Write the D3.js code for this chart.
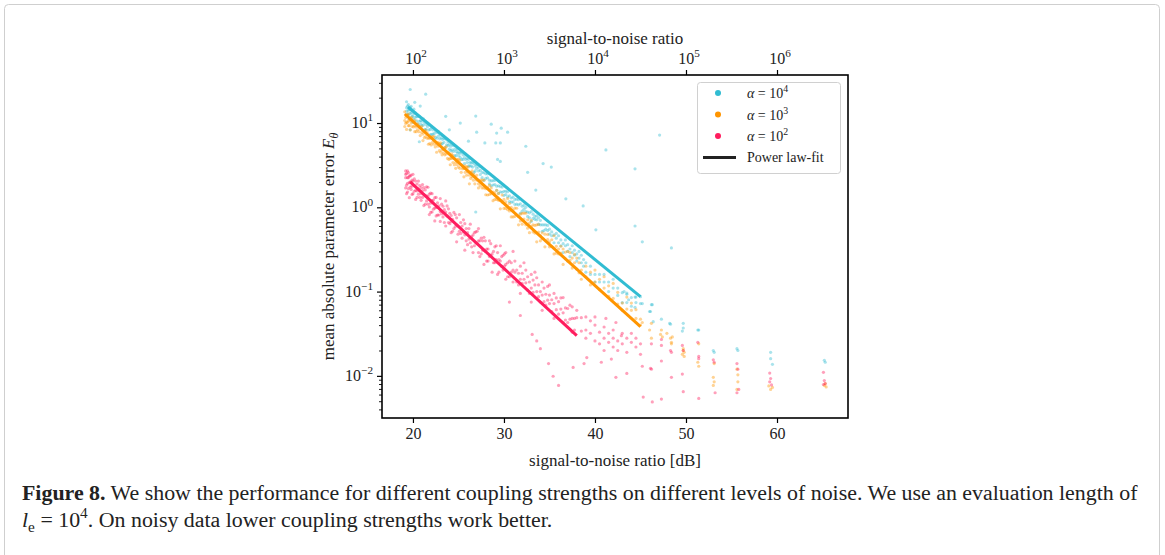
<!DOCTYPE html>
<html>
<head>
<meta charset="utf-8">
<script src="https://cdn.jsdelivr.net/npm/d3@7"></script>
<style>
  body { margin: 0; background: #fff; }
  text { font-family: "Liberation Serif", "DejaVu Serif", serif; fill: #222; }
</style>
</head>
<body>
<svg id="fig" width="1165" height="555"></svg>
<script>
// ---- data: [SNR in dB, mean absolute parameter error] ----
var dbTicks = [20, 30, 40, 50, 60];
var snrExpTicks = [2, 3, 4, 5, 6];
var yExpTicks = [1, 0, -1, -2];
var seriesExp = [4, 3, 2];
var seriesColors = ["#31bcd2", "#ff9500", "#ff1d5e"];

var cyanPts = [
  [19.3,17.9],[19.3,15.2],[19.3,13.9],[19.5,16.5],[19.5,14.1],[19.5,12.3],[19.7,15.3],[19.7,13.0],[19.9,14.1],[19.9,12.0],
  [20.1,13.0],[20.1,11.1],[20.1,14.6],[20.4,11.9],[20.4,10.6],[20.7,12.0],[20.7,10.5],[20.7,9.1],[21.0,10.5],[21.0,9.3],
  [21.3,10.2],[21.3,8.4],[21.6,9.1],[21.6,10.0],[21.9,8.4],[21.9,7.3],[22.2,8.3],[22.2,7.4],[22.5,8.0],[22.5,6.8],
  [22.8,7.0],[22.8,7.9],[23.1,6.7],[23.1,5.6],[23.4,6.6],[23.4,5.9],[23.7,5.5],[23.7,6.4],[24.0,5.6],[24.0,4.9],
  [24.3,5.6],[24.3,4.8],[24.6,4.9],[24.6,4.1],[24.9,4.9],[24.9,4.4],[25.2,4.4],[25.2,3.9],[25.5,4.2],[25.5,3.7],
  [25.8,3.7],[25.8,4.2],[26.1,3.7],[26.1,3.1],[26.4,3.4],[26.4,3.1],[26.7,3.3],[26.7,2.6],[27.0,2.9],[27.0,3.2],
  [27.4,2.75],[27.4,2.45],[27.8,2.57],[27.8,2.09],[28.2,2.23],[28.2,2.5],[28.6,2.06],[28.6,1.8],[29.0,1.86],[29.0,2.09],
  [29.4,1.8],[29.4,1.46],[29.8,1.74],[29.8,1.51],[30.2,1.42],[30.2,1.55],[30.6,1.37],[30.6,1.17],[31.0,1.32],[31.0,1.16],
  [31.4,1.09],[31.4,1.25],[31.8,1.1],[31.8,0.85],[32.2,0.95],[32.2,1.06],[32.6,0.78],[32.6,0.88],[33.0,0.89],[33.0,0.68],
  [33.4,0.72],[33.4,0.78],[33.8,0.63],[33.8,0.75],[34.2,0.62],[34.2,0.52],[34.6,0.55],[34.6,0.62],[35.0,0.48],[35.0,0.55],
  [35.5,0.47],[35.5,0.38],[36.0,0.46],[36.0,0.38],[36.5,0.37],[36.5,0.29],[37.0,0.36],[37.0,0.30],[37.5,0.29],[37.5,0.35],
  [38.0,0.28],[38.0,0.23],[38.5,0.22],[38.5,0.27],[39.0,0.22],[39.0,0.17],[39.5,0.2],[39.5,0.16],[40.0,0.16],[40.0,0.13],
  [40.5,0.16],[40.5,0.13],[41.0,0.13],[41.0,0.16],[41.5,0.13],[41.5,0.10],[42.0,0.11],[42.0,0.14],[42.5,0.09],[42.5,0.11],
  [43.0,0.097],[43.0,0.074],[43.5,0.074],[43.5,0.093],[44.0,0.085],[44.0,0.067],[44.5,0.074],[44.5,0.086],[45.0,0.072],[45.0,0.087],
  [19.4,12.9],[19.4,15.9],[19.6,11.4],[19.6,14.5],[19.8,13.2],[19.8,15.8],[20.0,12.1],[20.0,10.2],[20.25,11.7],[20.25,13.2],
  [20.55,9.8],[20.55,12.0],[20.85,10.7],[20.85,9.7],[21.15,9.5],[21.15,11.2],[21.45,8.4],[21.45,9.6],[21.75,8.3],[21.75,9.7],
  [22.05,8.9],[22.05,7.3],[22.35,7.5],[22.35,6.4],[22.65,7.7],[22.65,6.6],[22.95,6.5],[22.95,7.4],[23.25,6.4],[23.25,5.7],
  [23.55,6.5],[23.55,5.1],[23.85,5.4],[23.85,6.0],[24.15,5.3],[24.15,4.7],[24.45,4.6],[24.45,5.4],[24.75,4.6],[24.75,4.1],
  [25.05,4.5],[25.05,4.1],[25.35,3.7],[25.35,4.5],[25.65,3.9],[25.65,3.3],[25.95,3.4],[25.95,3.8],[26.25,3.4],[26.25,3.1],
  [26.55,3.4],[26.55,3.0],[26.85,2.7],[26.85,3.1],[27.2,2.7],[27.2,3.0],[27.6,2.6],[27.6,2.25],[28.0,2.2],[28.0,2.5],
  [28.4,2.1],[28.4,1.9],[28.8,2.07],[28.8,1.84],[29.2,1.78],[29.2,1.59],[29.6,1.76],[29.6,1.53],[30.0,1.55],[30.0,1.38],
  [30.4,1.53],[30.4,1.33],[30.8,1.29],[30.8,1.15],[31.2,1.24],[31.2,1.08],[31.6,1.07],[31.6,1.23],[32.0,1.03],[32.0,0.9],
  [32.4,1.0],[32.4,0.89],[32.8,0.86],[32.8,0.75],[33.2,0.83],[33.2,0.74],[33.6,0.71],[33.6,0.79],[34.0,0.7],[34.0,0.62],
  [34.4,0.62],[34.4,0.53],[34.8,0.61],[34.8,0.53],[35.25,0.51],[35.25,0.46],[35.75,0.49],[35.75,0.43],[36.25,0.41],[36.25,0.35],
  [36.75,0.41],[36.75,0.35],[37.25,0.32],[37.25,0.26],[37.75,0.31],[37.75,0.27],[38.25,0.25],[38.25,0.30],[38.75,0.24],[38.75,0.2],
  [19.7,25],[20.2,17.6],[20.8,15.9],[21.4,22],[20.7,6.0],[19.7,8.3],[23.6,12],[24.0,8.3],[25.2,10],[26.1,6.1],
  [26.9,12.1],[27.0,7.8],[27.9,5.8],[28.6,9.7],[29.1,5.8],[29.2,7.6],[29.6,5.8],[29.7,8.7],[30.4,7.8],[29.3,3.7],
  [29.6,3.5],[32.4,5.3],[32.6,2.6],[34.3,3.3],[35.2,3.0],[33.5,1.6],[36.8,1.26],[38.7,1.04],[40.1,0.54],[41.2,4.8],
  [44.4,2.86],[44.4,0.6],[45.2,0.39],[47.1,7.2],[48.4,0.33],[26.9,0.88],
  [46.2,0.07],[46.1,0.058],[47.3,0.047],[48.3,0.041],[49.7,0.042],[49.7,0.037],[51.4,0.035],[53.1,0.019],[55.7,0.020],[59.3,0.019],
  [59.3,0.016],[59.5,0.0137],[65.2,0.0153],[65.3,0.0145],[45.2,0.072],[46.3,0.07],[46.4,0.044],[46.0,0.058],[48.2,0.042],[49.6,0.034],
  [51.3,0.035],[44.4,0.065],[44.4,0.086],[43.7,0.08],[43.2,0.1],[43.5,0.096],[55.6,0.021],[53.0,0.02]
];

var orangePts = [
  [19.1,13.6],[19.1,10.7],[19.1,9.1],[19.3,12.2],[19.3,10.2],[19.3,8.4],[19.5,12.8],[19.5,10.7],[19.5,9.3],[19.7,10.7],
  [19.7,8.3],[19.9,11.2],[19.9,9.1],[20.2,9.3],[20.2,7.9],[20.2,10.7],[20.5,8.3],[20.5,9.8],[20.8,7.1],[20.8,8.7],
  [21.1,7.4],[21.1,6.2],[21.4,8.2],[21.4,6.9],[21.7,6.6],[21.7,5.6],[22.0,6.7],[22.0,5.5],[22.3,5.6],[22.3,6.9],
  [22.6,5.6],[22.6,4.5],[22.9,4.7],[22.9,5.7],[23.2,4.8],[23.2,4.2],[23.5,5.1],[23.5,4.2],[23.8,3.8],[23.8,4.5],
  [24.1,3.8],[24.1,3.2],[24.4,4.1],[24.4,3.4],[24.7,3.4],[24.7,2.9],[25.0,3.7],[25.0,3.0],[25.3,2.6],[25.3,3.2],
  [25.6,2.9],[25.6,2.3],[25.9,3.0],[25.9,2.4],[26.2,2.4],[26.2,1.9],[26.5,2.7],[26.5,2.3],[26.8,1.9],[26.8,2.3],
  [27.2,1.9],[27.2,1.7],[27.6,2.1],[27.6,1.7],[28.0,1.66],[28.0,1.41],[28.4,1.82],[28.4,1.42],[28.8,1.2],[28.8,1.52],
  [29.2,1.24],[29.2,1.59],[29.6,0.96],[29.6,1.21],[30.0,1.24],[30.0,0.97],[30.4,0.94],[30.4,1.27],[30.8,0.77],[30.8,1.0],
  [31.2,0.98],[31.2,0.78],[31.6,0.62],[31.6,0.78],[32.0,0.85],[32.0,0.63],[32.4,0.62],[32.4,0.85],[32.8,0.5],[32.8,0.65],
  [33.2,0.62],[33.2,0.51],[33.6,0.39],[33.6,0.62],[34.0,0.46],[34.0,0.40],[34.5,0.48],[34.5,0.34],[35.0,0.39],[35.0,0.34],
  [35.5,0.46],[35.5,0.28],[36.0,0.32],[36.0,0.28],[36.5,0.32],[36.5,0.21],[37.0,0.23],[37.0,0.30],[37.5,0.19],[37.5,0.25],
  [38.0,0.25],[38.0,0.185],[38.5,0.18],[38.5,0.14],[39.0,0.2],[39.0,0.15],[39.5,0.12],[39.5,0.17],[40.0,0.13],[40.0,0.18],
  [40.5,0.106],[40.5,0.14],[41.0,0.11],[41.0,0.15],[41.5,0.088],[41.5,0.117],[42.0,0.083],[42.0,0.125],[42.5,0.071],[42.5,0.098],
  [43.0,0.073],[43.0,0.06],[43.5,0.086],[43.5,0.062],[44.0,0.06],[44.0,0.073],[44.5,0.048],[44.5,0.061],[45.0,0.047],[45.0,0.04],
  [19.2,11.6],[19.2,9.9],[19.4,12.5],[19.4,10.2],[19.6,11.2],[19.6,9.3],[19.8,11.7],[19.8,10.0],[20.05,9.0],[20.05,10.3],
  [20.35,9.0],[20.35,7.9],[20.65,9.2],[20.65,7.9],[20.95,7.7],[20.95,9.1],[21.25,6.7],[21.25,7.9],[21.55,7.7],[21.55,6.6],
  [21.85,6.6],[21.85,5.7],[22.15,6.9],[22.15,5.9],[22.45,5.2],[22.45,6.0],[22.75,5.9],[22.75,5.3],[23.05,4.5],[23.05,5.8],
  [23.35,4.9],[23.35,4.4],[23.65,4.3],[23.65,5.2],[23.95,3.7],[23.95,4.4],[24.25,4.3],[24.25,3.8],[24.55,3.2],[24.55,3.8],
  [24.85,3.7],[24.85,3.2],[25.15,2.9],[25.15,3.6],[25.45,3.1],[25.45,2.87],[25.75,2.6],[25.75,3.1],[26.05,2.6],[26.05,3.0],
  [26.35,2.2],[26.35,2.6],[26.65,2.5],[26.65,2.1],[27.0,2.1],[27.0,2.4],[27.4,2.1],[27.4,1.8],[27.8,1.7],[27.8,2.1],
  [28.2,1.7],[28.2,1.4],[28.6,1.7],[28.6,1.45],[29.0,1.24],[29.0,1.48],[29.4,1.46],[29.4,1.21],[29.8,1.16],[29.8,1.40],
  [30.2,0.97],[30.2,1.16],[30.6,1.11],[30.6,0.906],[31.0,0.93],[31.0,0.77],[31.4,0.975],[31.4,0.81],[31.8,0.69],[31.8,0.83],
  [32.2,0.726],[32.2,0.853],[32.6,0.565],[32.6,0.711],[33.0,0.594],[33.0,0.698],[33.4,0.495],[33.4,0.61],[33.8,0.508],[33.8,0.625],
  [34.2,0.424],[34.2,0.498],[34.8,0.415],[34.8,0.476],[35.25,0.343],[35.25,0.412],[35.75,0.344],[35.75,0.286],[36.25,0.344],[36.25,0.286],
  [36.75,0.245],[36.75,0.294],[37.25,0.29],[37.25,0.234],[37.75,0.22],[37.75,0.276],[38.25,0.167],[38.25,0.22],
  [45.2,0.043],[46.0,0.035],[46.2,0.042],[46.2,0.028],[47.3,0.035],[47.2,0.031],[47.4,0.029],[47.9,0.032],[48.3,0.028],[48.4,0.025],
  [48.4,0.024],[48.5,0.029],[49.7,0.021],[49.6,0.018],[49.7,0.020],[49.8,0.017],[49.8,0.019],[51.3,0.0145],[51.4,0.013],[51.4,0.024],
  [53.0,0.0096],[53.1,0.0085],[53.0,0.0077],[53.1,0.014],[55.6,0.012],[55.7,0.0085],[55.6,0.0069],[55.7,0.0103],[59.1,0.0076],[59.3,0.0069],
  [59.5,0.0073],[65.2,0.0077],[65.4,0.0074],[65.3,0.0081]
];

var pinkPts = [
  [19.2,2.7],[19.2,2.25],[19.2,1.7],[19.2,2.46],[19.4,2.7],[19.4,1.92],[19.4,1.52],[19.4,2.25],[19.6,2.36],[19.6,1.96],
  [19.6,1.3],[19.8,2.41],[19.8,1.63],[19.8,1.96],[20.0,2.05],[20.0,1.45],[20.0,2.46],[20.3,1.59],[20.3,2.05],[20.3,1.24],
  [20.6,2.05],[20.6,1.43],[20.6,1.66],[20.9,1.21],[20.9,1.71],[20.9,1.45],[21.2,1.71],[21.2,1.05],[21.2,1.42],[21.5,1.19],
  [21.5,1.75],[21.5,1.37],[21.8,1.01],[21.8,1.43],[21.8,0.82],[22.1,1.2],[22.1,0.88],[22.1,1.45],[22.4,0.98],[22.4,1.3],
  [22.4,0.69],[22.7,1.13],[22.7,0.81],[22.7,1.0],[23.0,0.89],[23.0,1.27],[23.0,0.68],[23.3,1.03],[23.3,0.77],[23.6,0.6],
  [23.6,0.88],[23.6,1.19],[23.9,0.66],[23.9,0.96],[24.2,0.8],[24.2,0.5],[24.2,0.68],[24.5,0.87],[24.5,0.56],[24.8,0.62],
  [24.8,0.39],[24.8,0.75],[25.1,0.82],[25.1,0.52],[25.4,0.43],[25.4,0.6],[25.7,0.64],[25.7,0.47],[25.7,0.31],[26.0,0.5],
  [26.0,0.36],[26.3,0.63],[26.3,0.38],[26.6,0.47],[26.6,0.29],[26.9,0.38],[26.9,0.51],[27.2,0.56],[27.2,0.29],[27.2,0.4],
  [27.5,0.28],[27.5,0.43],[27.8,0.44],[27.8,0.21],[27.8,0.31],[28.1,0.32],[28.1,0.23],[28.4,0.4],[28.4,0.26],[28.7,0.28],
  [28.7,0.17],[29.0,0.22],[29.0,0.34],[29.3,0.16],[29.3,0.29],[29.6,0.35],[29.6,0.23],[29.9,0.18],[29.9,0.27],[30.2,0.21],
  [30.2,0.14],[30.2,0.29],[30.6,0.15],[30.6,0.23],[31.0,0.3],[31.0,0.18],[31.0,0.13],[31.4,0.18],[31.4,0.13],[31.8,0.2],
  [31.8,0.14],[31.8,0.095],[32.2,0.14],[32.2,0.22],[32.6,0.104],[32.6,0.15],[33.0,0.16],[33.0,0.11],[33.0,0.075],[33.4,0.12],
  [33.4,0.17],[33.8,0.087],[33.8,0.12],[34.2,0.13],[34.2,0.091],[34.2,0.06],[34.6,0.093],[34.6,0.069],[35.0,0.12],[35.0,0.072],
  [35.0,0.091],[35.5,0.072],[35.5,0.095],[35.5,0.048],[36.0,0.076],[36.0,0.054],[36.5,0.085],[36.5,0.056],[36.5,0.043],[37.0,0.063],
  [37.0,0.043],[37.5,0.066],[37.5,0.048],[37.5,0.033],[38.0,0.049],[38.0,0.06],[38.5,0.049],[38.5,0.034],[39.0,0.05],[39.0,0.035],
  [39.0,0.028],[39.5,0.045],[39.5,0.032],[40.0,0.04],[40.0,0.026],[40.0,0.05],[40.5,0.033],[40.5,0.024],[41.0,0.038],[41.0,0.028],
  [41.0,0.02],[41.5,0.032],[41.5,0.025],[42.0,0.035],[42.0,0.022],[42.0,0.028],[42.5,0.026],[42.5,0.02],[43.0,0.032],[43.0,0.024],
  [43.5,0.028],[43.5,0.019],[44.0,0.025],[44.0,0.032],[44.5,0.022],[44.5,0.028],[45.0,0.024],[45.0,0.018],
  [19.3,2.52],[19.3,1.83],[19.3,1.45],[19.5,2.25],[19.5,1.67],[19.5,2.58],[19.7,2.0],[19.7,1.74],[19.7,2.35],[19.9,1.42],
  [19.9,2.1],[19.9,1.78],[20.15,2.17],[20.15,1.55],[20.15,1.81],[20.45,1.57],[20.45,1.89],[20.45,1.31],[20.75,1.81],[20.75,1.31],
  [20.75,1.57],[21.05,1.31],[21.05,1.58],[21.05,1.86],[21.35,1.09],[21.35,1.37],[21.35,1.61],[21.65,1.34],[21.65,1.09],[21.65,1.73],
  [21.95,1.12],[21.95,1.47],[21.95,0.87],[22.25,1.22],[22.25,0.95],[22.55,1.0],[22.55,1.31],[22.55,0.79],[22.85,1.04],[22.85,0.81],
  [23.15,0.84],[23.15,1.09],[23.45,0.94],[23.45,0.66],[23.75,0.79],[23.75,1.04],[24.05,0.64],[24.05,0.85],[24.35,0.72],[24.35,0.52],
  [24.65,0.82],[24.65,0.59],[24.95,0.6],[24.95,0.48],[25.25,0.66],[25.25,0.49],[25.55,0.51],[25.55,0.71],[25.85,0.56],[25.85,0.4],
  [26.15,0.42],[26.15,0.56],[26.45,0.45],[26.45,0.34],[26.75,0.5],[26.75,0.35],[27.05,0.37],[27.05,0.52],[27.35,0.4],[27.35,0.26],
  [27.65,0.31],[27.65,0.4],[27.95,0.4],[27.95,0.3],[28.25,0.23],[28.25,0.32],[28.55,0.37],[28.55,0.27],[28.85,0.22],[28.85,0.3],
  [29.15,0.35],[29.15,0.24],[29.45,0.24],[29.45,0.17],[29.75,0.26],[29.75,0.2],[30.05,0.2],[30.05,0.28],[30.4,0.15],[30.4,0.22],
  [30.8,0.22],[30.8,0.17],[31.2,0.17],[31.2,0.23],[31.6,0.12],[31.6,0.165],[32.0,0.165],[32.0,0.125],[32.4,0.18],[32.4,0.127],
  [32.8,0.13],[32.8,0.095],[33.2,0.137],[33.2,0.098],[33.6,0.146],[33.6,0.1],[34.0,0.1],[34.0,0.075],[34.4,0.11],[34.4,0.076],
  [34.8,0.079],[34.8,0.115],[35.25,0.08],[35.25,0.058],[35.75,0.084],[35.75,0.061],[36.25,0.062],[36.25,0.084],[36.75,0.064],[36.75,0.046],
  [37.25,0.047],[37.25,0.069],[37.75,0.048],[37.75,0.035],
  [34.9,0.014],[35.4,0.0099],[36.0,0.0077],[33.1,0.031],[33.6,0.026],[34.0,0.021],[37.6,0.0126],[39.1,0.0165],[38.8,0.014],[40.7,0.0145],
  [41.8,0.0158],[42.3,0.0096],[43.5,0.0107],[45.2,0.013],[46.2,0.012],[45.3,0.0056],[47.3,0.0053],[46.3,0.0049],[48.4,0.0096],[31.8,0.052],
  [30.6,0.075],[41.2,0.048],[42.3,0.043],[42.9,0.030],
  [46.2,0.024],[46.1,0.0123],[47.3,0.027],[47.3,0.023],[47.3,0.015],[48.3,0.020],[48.4,0.019],[49.6,0.023],[49.7,0.020],[49.6,0.0105],
  [49.7,0.0065],[51.3,0.025],[51.4,0.017],[51.4,0.016],[51.4,0.0054],[53.0,0.0155],[53.1,0.0145],[53.2,0.0063],[55.6,0.014],[55.7,0.012],
  [55.6,0.0063],[55.8,0.0069],[59.2,0.0108],[59.3,0.0093],[59.4,0.0078],[59.2,0.0085],[65.1,0.011],[65.2,0.0088],[65.3,0.0081],[65.1,0.0079]
];

// power-law fits: start and end point of each line
var fitCyan = [[19.45, 15.5], [45.0, 0.087]];
var fitOrange = [[19.1, 12.8], [45.0, 0.0385]];
var fitPink = [[19.7, 2.0], [38.0, 0.030]];

var allPts = [cyanPts, orangePts, pinkPts];
var allFits = [fitCyan, fitOrange, fitPink];

// ---- layout ----
var svg = d3.select("#fig");
var L = 382, R = 848, T = 75, B = 418;

var x = d3.scaleLinear().domain([16.6, 67.8]).range([L, R]);
var xTop = d3.scaleLog().domain([Math.pow(10, 1.66), Math.pow(10, 6.78)]).range([L, R]);
var y = d3.scaleLog().domain([Math.pow(10, -2.5), Math.pow(10, 1.57)]).range([B, T]);

// page border
svg.append("rect").attr("x", 4.5).attr("y", 4.5).attr("width", 1155).attr("height", 600)
  .attr("rx", 4).attr("fill", "none").attr("stroke", "#cfcfcf");

// text with italic / super- / subscript parts
function richText(parent, parts, size) {
  var t = parent.append("text").style("font-size", size + "px");
  var shift = 0;
  parts.forEach(function(p) {
    var s = p.sup ? -0.42 * size : (p.sub ? 0.25 * size : 0);
    var ts = t.append("tspan").text(p.t).attr("dy", s - shift);
    if (p.sup || p.sub) ts.style("font-size", (size * 0.7) + "px");
    if (p.it) ts.style("font-style", "italic");
    if (p.b) ts.style("font-weight", "bold");
    shift = s;
  });
  return t;
}

// scatter points
var plot = svg.append("g");
allPts.forEach(function(pts, k) {
  plot.append("g").selectAll("circle")
    .data(pts)
    .enter().append("circle")
    .attr("cx", function(d) { return x(d[0]); })
    .attr("cy", function(d) { return y(d[1]); })
    .attr("r", 1.6)
    .attr("fill", seriesColors[k])
    .attr("fill-opacity", 0.42);
});

// fit lines
var line = d3.line().x(function(d) { return x(d[0]); }).y(function(d) { return y(d[1]); });
allFits.forEach(function(f, k) {
  plot.append("path").attr("d", line(f))
    .attr("stroke", seriesColors[k]).attr("stroke-width", 3)
    .attr("fill", "none");
});

// bottom axis
var gx = svg.append("g").attr("transform", "translate(0," + B + ")")
  .call(d3.axisBottom(x).tickValues(dbTicks).tickSize(5).tickPadding(5).tickFormat(d3.format("d")));
gx.select(".domain").remove();
gx.attr("font-family", null).attr("font-size", null);
gx.selectAll("line").attr("stroke", "#000").attr("stroke-width", 1.2);
gx.selectAll("text").style("font-size", "16px").attr("fill", "#222");

// top axis (linear SNR)
var gt = svg.append("g").attr("transform", "translate(0," + T + ")")
  .call(d3.axisTop(xTop).tickValues(snrExpTicks.map(function(e) { return Math.pow(10, e); })).tickSize(5).tickFormat(""));
gt.select(".domain").remove();
gt.selectAll("line").attr("stroke", "#000").attr("stroke-width", 1.2);
snrExpTicks.forEach(function(e) {
  richText(svg, [{t: "10"}, {t: String(e), sup: true}], 16)
    .attr("x", xTop(Math.pow(10, e)) + 3).attr("y", 64).attr("text-anchor", "middle");
});

// left axis, major + minor ticks
var minor = [];
for (var k = -3; k <= 1; k++) {
  for (var m = 2; m <= 9; m++) {
    var v = m * Math.pow(10, k);
    if (v > y.domain()[0] && v < y.domain()[1]) minor.push(v);
  }
}
var gyMinor = svg.append("g").attr("transform", "translate(" + L + ",0)")
  .call(d3.axisLeft(y).tickValues(minor).tickSize(3).tickFormat(""));
gyMinor.select(".domain").remove();
gyMinor.selectAll("line").attr("stroke", "#000").attr("stroke-width", 0.9);
var gy = svg.append("g").attr("transform", "translate(" + L + ",0)")
  .call(d3.axisLeft(y).tickValues(yExpTicks.map(function(e) { return Math.pow(10, e); })).tickSize(5).tickFormat(""));
gy.select(".domain").remove();
gy.selectAll("line").attr("stroke", "#000").attr("stroke-width", 1.2);
yExpTicks.forEach(function(e) {
  var lab = e < 0 ? "\u2212" + (-e) : String(e);
  richText(svg, [{t: "10"}, {t: lab, sup: true}], 16)
    .attr("x", L - 9).attr("y", y(Math.pow(10, e)) + 5).attr("text-anchor", "end");
});

// frame
svg.append("rect").attr("x", L).attr("y", T).attr("width", R - L).attr("height", B - T)
  .attr("fill", "none").attr("stroke", "#000").attr("stroke-width", 1.6);

// axis titles
svg.append("text").attr("x", (L + R) / 2).attr("y", 466).attr("text-anchor", "middle")
  .style("font-size", "17px").text("signal-to-noise ratio [dB]");
svg.append("text").attr("x", (L + R) / 2).attr("y", 44).attr("text-anchor", "middle")
  .style("font-size", "17px").text("signal-to-noise ratio");
richText(svg, [{t: "mean absolute parameter error "}, {t: "E", it: true}, {t: "\u03b8", it: true, sub: true}], 17)
  .attr("text-anchor", "middle")
  .attr("transform", "translate(334," + ((T + B) / 2) + ") rotate(-90)");

// legend
var lg = svg.append("g");
lg.append("rect").attr("x", 697.5).attr("y", 82.5).attr("width", 143).attr("height", 91)
  .attr("rx", 3).attr("fill", "#fff").attr("fill-opacity", 0.85).attr("stroke", "#d0d0d0");
seriesExp.forEach(function(e, i) {
  var cy = 93 + i * 21.5;
  lg.append("circle").attr("cx", 718).attr("cy", cy).attr("r", 3).attr("fill", seriesColors[i]);
  richText(lg, [{t: "\u03b1", it: true}, {t: " = 10"}, {t: String(e), sup: true}], 14)
    .attr("x", 747).attr("y", cy + 5);
});
lg.append("line").attr("x1", 703).attr("x2", 736).attr("y1", 157.5).attr("y2", 157.5)
  .attr("stroke", "#222").attr("stroke-width", 3);
lg.append("text").attr("x", 747).attr("y", 162).style("font-size", "14px").text("Power law-fit");

// caption
var capX = 22, capRight = 1138, capSize = 19;
var cap1 = richText(svg, [{t: "Figure 8.", b: true},
  {t: " We show the performance for different coupling strengths on different levels of noise. We use an evaluation length of"}], capSize)
  .attr("x", capX).attr("y", 500);
var w = cap1.node().getComputedTextLength();
capSize = capSize * (capRight - capX) / w;
cap1.style("font-size", capSize + "px");
richText(svg, [{t: "l", it: true}, {t: "e", sub: true}, {t: " = 10"}, {t: "4", sup: true},
  {t: ". On noisy data lower coupling strengths work better."}], capSize)
  .attr("x", capX).attr("y", 527);
</script>
</body>
</html>
